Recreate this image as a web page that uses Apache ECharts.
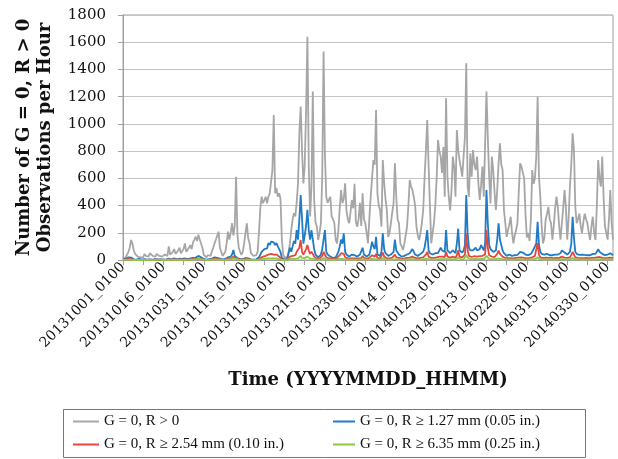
<!DOCTYPE html>
<html><head><meta charset="utf-8">
<script src="https://cdn.jsdelivr.net/npm/echarts@6/dist/echarts.min.js"></script>
<style>html,body{margin:0;padding:0;background:#fff}#c{width:618px;height:459px}</style>
</head><body><div id="c"></div>
<script>
// Time axis: days since 20131001_0100, one value every 12 hours
var tickLabels = ["20131001_0100","20131016_0100","20131031_0100","20131115_0100","20131130_0100","20131215_0100","20131230_0100","20140114_0100","20140129_0100","20140213_0100","20140228_0100","20140315_0100","20140330_0100"];
var seriesNames = ["G = 0, R > 0","G = 0, R \u2265 1.27 mm (0.05 in.)","G = 0, R \u2265 2.54 mm (0.10 in.)","G = 0, R \u2265 6.35 mm (0.25 in.)"];
var grayVals = [10,15,20,40,60,90,147,120,70,45, 40,25,15,20,30,20,45,30,35,25, 50,40,30,20,25,45,55,30,35,25, 30,40,45,30,100,40,35,60,80,45,
55,70,90,50,60,80,122,60,70,90, 110,80,130,150,171,140,186,150,140,90, 40,30,20,35,40,30,60,90,122,150, 150,208,90,60,30,20,60,122,208,150,
200,270,180,250,612,190,90,60,37,60, 122,200,270,160,122,50,40,30,20,35, 60,200,380,465,417,440,465,417,465,490, 490,661,1066,490,530,465,490,450,150,37,
20,25,20,60,122,220,300,343,320,420, 563,931,1127,800,563,700,1100,1641,700,320, 540,1237,440,280,245,147,200,270,610,1531, 780,465,420,417,465,320,300,270,150,122,
220,380,514,417,450,563,365,300,270,350, 440,380,560,280,245,300,420,250,490,300, 270,200,122,300,465,600,735,700,1102,490, 400,365,245,735,563,450,365,170,200,270,
350,417,710,465,300,270,122,100,73,120, 180,245,400,588,540,514,465,400,245,180, 147,200,270,365,600,800,1029,700,400,122, 200,270,400,600,882,800,760,640,830,465,
1188,612,465,365,500,760,686,465,955,808, 735,735,612,760,900,1445,539,465,784,612, 808,700,661,760,563,441,550,686,465,857, 1237,900,612,416,760,661,500,367,514,710,
857,700,661,367,270,170,220,260,318,200, 122,180,220,270,500,710,686,686,600,340, 165,200,140,300,661,560,600,760,1200,612, 465,250,122,160,300,340,390,300,270,150,
250,380,465,390,250,150,270,380,514,390, 150,300,540,700,931,810,390,270,300,340, 250,200,280,340,300,270,200,147,250,318, 200,147,400,735,600,540,760,465,250,200,
150,300,514,270,150];
var blueVals = [2,5,8,15,20,25,18,10,5,3, 3,5,8,5,3,4,6,3,2,4, 5,3,2,4,6,3,5,8,4,3, 4,6,3,5,10,6,4,8,12,6,
5,8,10,6,8,5,12,8,6,10, 12,8,15,20,18,25,30,37,20,12, 8,5,3,4,6,8,10,15,20,12, 15,25,10,6,4,3,8,12,20,15,
25,40,73,30,35,15,10,6,4,6, 10,15,20,12,8,5,4,3,3,5, 8,20,40,60,70,80,90,85,125,110, 135,125,130,110,125,100,90,60,15,8,
5,6,8,20,90,60,100,140,120,220, 150,300,478,300,120,180,250,368,220,150, 220,150,80,40,30,20,25,40,80,150, 220,60,40,30,25,20,15,12,20,40,
60,100,150,120,195,60,40,30,25,30, 40,30,35,30,25,30,40,37,90,40, 30,25,20,40,80,135,100,80,170,40, 35,30,60,196,80,50,40,30,35,40,
50,60,150,70,60,40,30,25,20,30, 35,40,45,50,60,80,70,40,35,30, 35,45,50,60,90,150,220,70,50,40, 40,45,50,60,50,70,90,70,80,60,
220,70,60,50,55,70,60,50,120,230, 70,60,55,70,110,478,196,90,70,60, 70,80,90,70,60,80,110,90,70,120, 515,270,110,80,70,60,60,70,150,270,
150,110,70,50,40,30,35,40,35,30, 30,35,40,37,50,60,60,55,50,40, 30,35,40,45,60,80,90,120,280,110, 60,45,37,40,50,45,40,35,40,35,
37,40,45,40,35,50,70,60,55,45, 40,50,60,120,318,160,60,45,40,37, 35,40,37,37,40,35,30,35,40,45, 40,45,60,80,60,50,45,40,35,40,
40,45,50,40,35];
var redVals = [1,2,3,6,10,8,4,2,1,1, 1,2,3,2,1,1,2,1,1,2, 2,1,1,2,3,1,2,4,2,1, 1,2,1,2,5,3,2,3,4,2,
2,3,4,2,3,2,5,3,2,4, 5,3,6,8,6,10,12,15,8,5, 3,2,1,2,3,4,5,6,8,5, 6,10,4,2,1,1,3,5,8,6,
10,15,25,12,15,6,4,2,1,2, 4,6,8,5,3,2,1,1,1,2, 3,8,15,20,25,25,30,28,40,35, 45,50,40,35,40,30,25,15,5,3,
2,2,3,8,25,20,30,40,35,60, 50,90,147,60,40,60,80,110,70,45, 60,45,25,15,10,8,10,15,30,60, 50,20,15,12,10,8,6,5,8,15,
20,35,50,40,45,20,15,12,10,12, 15,12,14,12,10,12,15,14,30,15, 12,10,8,15,25,35,30,25,45,15, 12,10,20,55,25,15,12,10,12,15,
18,20,40,20,18,15,12,10,8,12, 14,15,16,18,20,25,22,15,12,12, 14,16,18,20,30,40,60,25,18,15, 15,16,18,20,18,25,30,25,28,22,
60,25,20,18,20,25,22,18,35,70, 25,20,20,25,40,196,70,30,25,22, 25,28,30,25,22,28,35,30,25,40, 220,90,35,28,25,22,22,25,45,70,
45,35,25,20,15,12,14,15,14,12, 12,14,15,14,18,20,20,18,16,14, 12,14,15,16,20,25,30,40,125,40, 20,16,14,15,18,16,15,14,15,14,
14,15,16,15,14,18,25,20,18,16, 15,18,20,35,60,40,20,16,15,14, 14,15,14,14,15,14,12,14,15,16, 15,16,20,28,22,18,16,15,14,15,
15,16,18,15,14];
var greenVals = [0,0,1,2,3,2,1,0,0,0, 0,1,1,0,0,0,1,0,0,1, 1,0,0,1,1,0,1,2,1,0, 0,1,0,1,2,1,1,1,2,1,
1,1,2,1,1,1,2,1,1,2, 2,1,3,5,4,6,8,10,5,3, 2,1,0,1,1,2,2,3,4,2, 3,5,2,1,0,0,1,2,4,3,
5,8,12,6,8,3,2,1,0,1, 2,3,4,2,1,1,0,0,0,1, 1,3,5,6,8,8,10,9,12,10, 12,14,12,10,12,8,7,4,1,1,
0,1,1,3,8,6,8,10,9,14, 12,20,30,15,10,14,18,25,14,10, 14,10,6,4,3,2,3,4,8,14, 12,5,4,3,3,2,2,1,2,4,
5,8,12,9,10,5,4,3,3,3, 4,3,4,3,3,3,4,4,8,4, 3,3,2,4,6,9,8,6,12,4, 3,3,5,14,6,4,3,3,3,4,
5,5,10,5,5,4,3,3,2,3, 4,4,4,5,5,6,6,4,3,3, 4,4,5,5,8,10,15,6,5,4, 4,4,5,5,5,6,8,6,7,6,
15,6,5,5,5,6,6,5,9,18, 6,5,5,6,10,37,18,8,6,6, 6,7,8,6,6,7,9,8,6,10, 30,20,9,7,6,6,6,6,10,15,
10,8,6,5,4,3,4,4,4,3, 3,4,4,4,5,5,5,5,4,4, 3,4,4,4,5,6,8,10,20,10, 5,4,4,4,5,4,4,4,4,4,
4,4,4,4,4,5,6,5,5,4, 4,5,5,8,14,10,5,4,4,4, 4,4,4,4,4,4,3,4,4,4, 4,4,5,7,6,5,4,4,4,4,
4,4,5,4,4];

function pairs(vals){ return vals.map(function(v,i){ return [i*0.5, v]; }); }
var colors = ['#a6a6a6','#1f7bc6','#e8453c','#8dc63f'];
var allVals = [grayVals, blueVals, redVals, greenVals];
var FONT = 'DejaVu Serif';
var LFONT = 'Liberation Serif';

function legendItem(name, left, top, w){
  return {data:[name], orient:'horizontal', left:left, top:top, padding:0, itemWidth:w, itemHeight:2, itemGap:0, icon:'rect',
    textStyle:{fontFamily:LFONT, fontSize:15, color:'#111'}};
}

var chart = echarts.init(document.getElementById('c'), null, {renderer:'canvas'});
chart.setOption({
  animation:false,
  backgroundColor:'#fff',
  grid:{left:123, right:5, top:15, bottom:199, show:true, borderColor:'#a0a0a0', borderWidth:1, containLabel:false},
  legend:[
    legendItem(seriesNames[0], 73, 414, 26),
    legendItem(seriesNames[2], 73, 437, 26),
    legendItem(seriesNames[1], 333, 414, 22),
    legendItem(seriesNames[3], 333, 437, 22)
  ],
  graphic:[{type:'rect', shape:{x:63.5, y:409.5, width:522, height:48}, style:{fill:'none', stroke:'#777', lineWidth:1}, silent:true}],
  xAxis:{type:'value', min:0, max:182, interval:7.5,
    name:'Time (YYYYMMDD_HHMM)', nameLocation:'middle', nameGap:111,
    nameTextStyle:{fontFamily:FONT, fontWeight:'bold', fontSize:18, color:'#111'},
    axisLine:{show:true, onZero:false, lineStyle:{color:'#a0a0a0', width:1}},
    axisTick:{show:true, length:5, inside:false, lineStyle:{color:'#a0a0a0'}},
    splitLine:{show:false},
    axisLabel:{rotate:45, margin:5, fontFamily:FONT, fontSize:14, color:'#111', showMaxLabel:false,
      formatter:function(v){ return (v % 15 === 0) ? (tickLabels[v/15] || '') : ''; }}
  },
  yAxis:{type:'value', min:0, max:1800, interval:200,
    name:'Number of G = 0, R > 0\nObservations per Hour', nameLocation:'middle', nameGap:67, nameRotate:90,
    nameTextStyle:{fontFamily:FONT, fontWeight:'bold', fontSize:18, color:'#111', lineHeight:21},
    axisLine:{show:true, lineStyle:{color:'#a0a0a0', width:1}},
    axisTick:{show:true, length:5, lineStyle:{color:'#a0a0a0'}},
    splitLine:{show:true, lineStyle:{color:'#c4c4c4', width:1}},
    axisLabel:{margin:17, fontFamily:FONT, fontSize:15, color:'#111', formatter:function(v){ return String(v); }}
  },
  series: allVals.map(function(vals, k){
    return {name:seriesNames[k], type:'line', data:pairs(vals), symbol:'none', showSymbol:false,
      lineStyle:{color:colors[k], width:1.8}, itemStyle:{color:colors[k]}, z:2+k};
  })
});
</script></body></html>
